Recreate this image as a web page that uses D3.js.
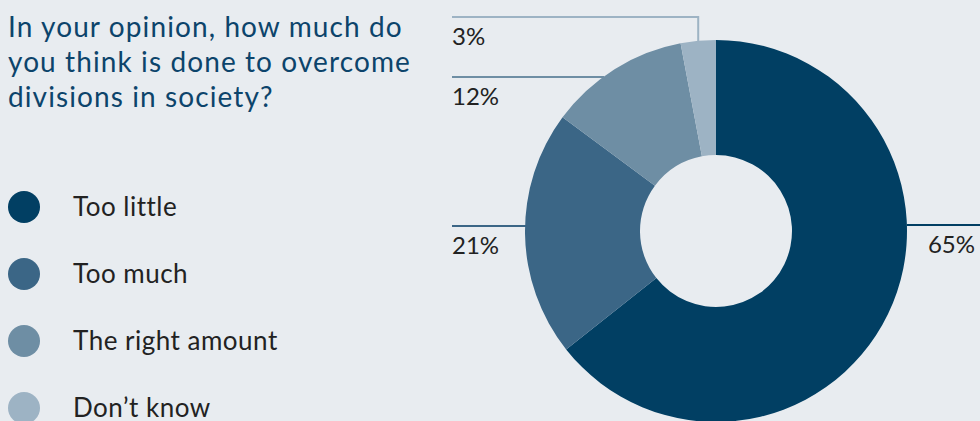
<!DOCTYPE html>
<html>
<head>
<meta charset="utf-8">
<script src="https://cdn.jsdelivr.net/npm/d3@7"></script>
<style>
  html, body { margin: 0; padding: 0; background: #e8ecf0; }
  svg { display: block; }
  text { font-family: Lato, "DejaVu Sans", sans-serif; }
</style>
</head>
<body>
<svg id="chart" width="980" height="421"></svg>
<script>
// Survey answers, share of respondents
const categories = ["Too little", "Too much", "The right amount", "Don\u2019t know"];
const values = [65, 21, 12, 3];
const valueLabels = ["65%", "21%", "12%", "3%"];
const colors = ["#013f63", "#3b6686", "#6e8ea4", "#9db3c4"];
const titleLines = ["In your opinion, how much do", "you think is done to overcome", "divisions in society?"];

const W = 980, H = 421;
const svg = d3.select("#chart");
svg.append("rect").attr("width", W).attr("height", H).attr("fill", "#e8ecf0");

// Title
svg.append("text")
  .attr("x", 8).attr("y", 37)
  .attr("fill", "#0c446b")
  .attr("font-size", 28)
  .attr("letter-spacing", 1.1)
  .selectAll("tspan").data(titleLines).join("tspan")
  .attr("x", 8).attr("dy", (d, i) => i === 0 ? 0 : 35)
  .text(d => d);

// Legend
const legendY = d3.scalePoint().domain(categories).range([207, 408]);
const legend = svg.append("g").selectAll("g").data(categories).join("g")
  .attr("transform", d => `translate(0,${legendY(d)})`);
legend.append("circle").attr("cx", 24).attr("r", 16)
  .attr("fill", (d, i) => colors[i]);
legend.append("text").attr("x", 73).attr("y", 9)
  .attr("font-size", 26).attr("letter-spacing", 0.5).attr("fill", "#222")
  .text(d => d);

// Donut
const cx = 716, cy = 231, R = 191, r = 76;
const arcs = d3.pie().sort(null).value(d => d)(values);
const arcGen = d3.arc().innerRadius(r).outerRadius(R);
const g = svg.append("g").attr("transform", `translate(${cx},${cy})`);
g.selectAll("path").data(arcs).join("path")
  .attr("d", arcGen)
  .attr("fill", (d, i) => colors[i]);

// Leader lines and value labels
const edgeX = (y, side) => cx + side * Math.sqrt(R * R - (cy - y) * (cy - y));
const leaders = [
  { i: 0, y: 225, side: 1 },
  { i: 1, y: 226, side: -1 },
  { i: 2, y: 77, side: -1 },
  { i: 3, y: 17, side: -1, elbow: true }
];
const lx = 452;
leaders.forEach(l => {
  let pts;
  if (l.side === 1) {
    pts = [[edgeX(l.y, 1), l.y], [W, l.y]];
  } else if (l.elbow) {
    const a = (arcs[l.i].startAngle + arcs[l.i].endAngle) / 2;
    const px = cx + R * Math.sin(a);
    const py = cy - Math.sqrt(R * R - (px - cx) * (px - cx));
    pts = [[lx, l.y], [px, l.y], [px, py + 1]];
  } else {
    pts = [[lx, l.y], [edgeX(l.y, -1) + 1, l.y]];
  }
  svg.append("path")
    .attr("d", d3.line()(pts))
    .attr("fill", "none")
    .attr("stroke", colors[l.i])
    .attr("stroke-width", 2);
  svg.append("text")
    .attr("x", l.side === 1 ? 975 : lx)
    .attr("y", l.y + 28)
    .attr("text-anchor", l.side === 1 ? "end" : "start")
    .attr("font-size", 24)
    .attr("fill", "#222")
    .text(valueLabels[l.i]);
});
</script>
</body>
</html>
